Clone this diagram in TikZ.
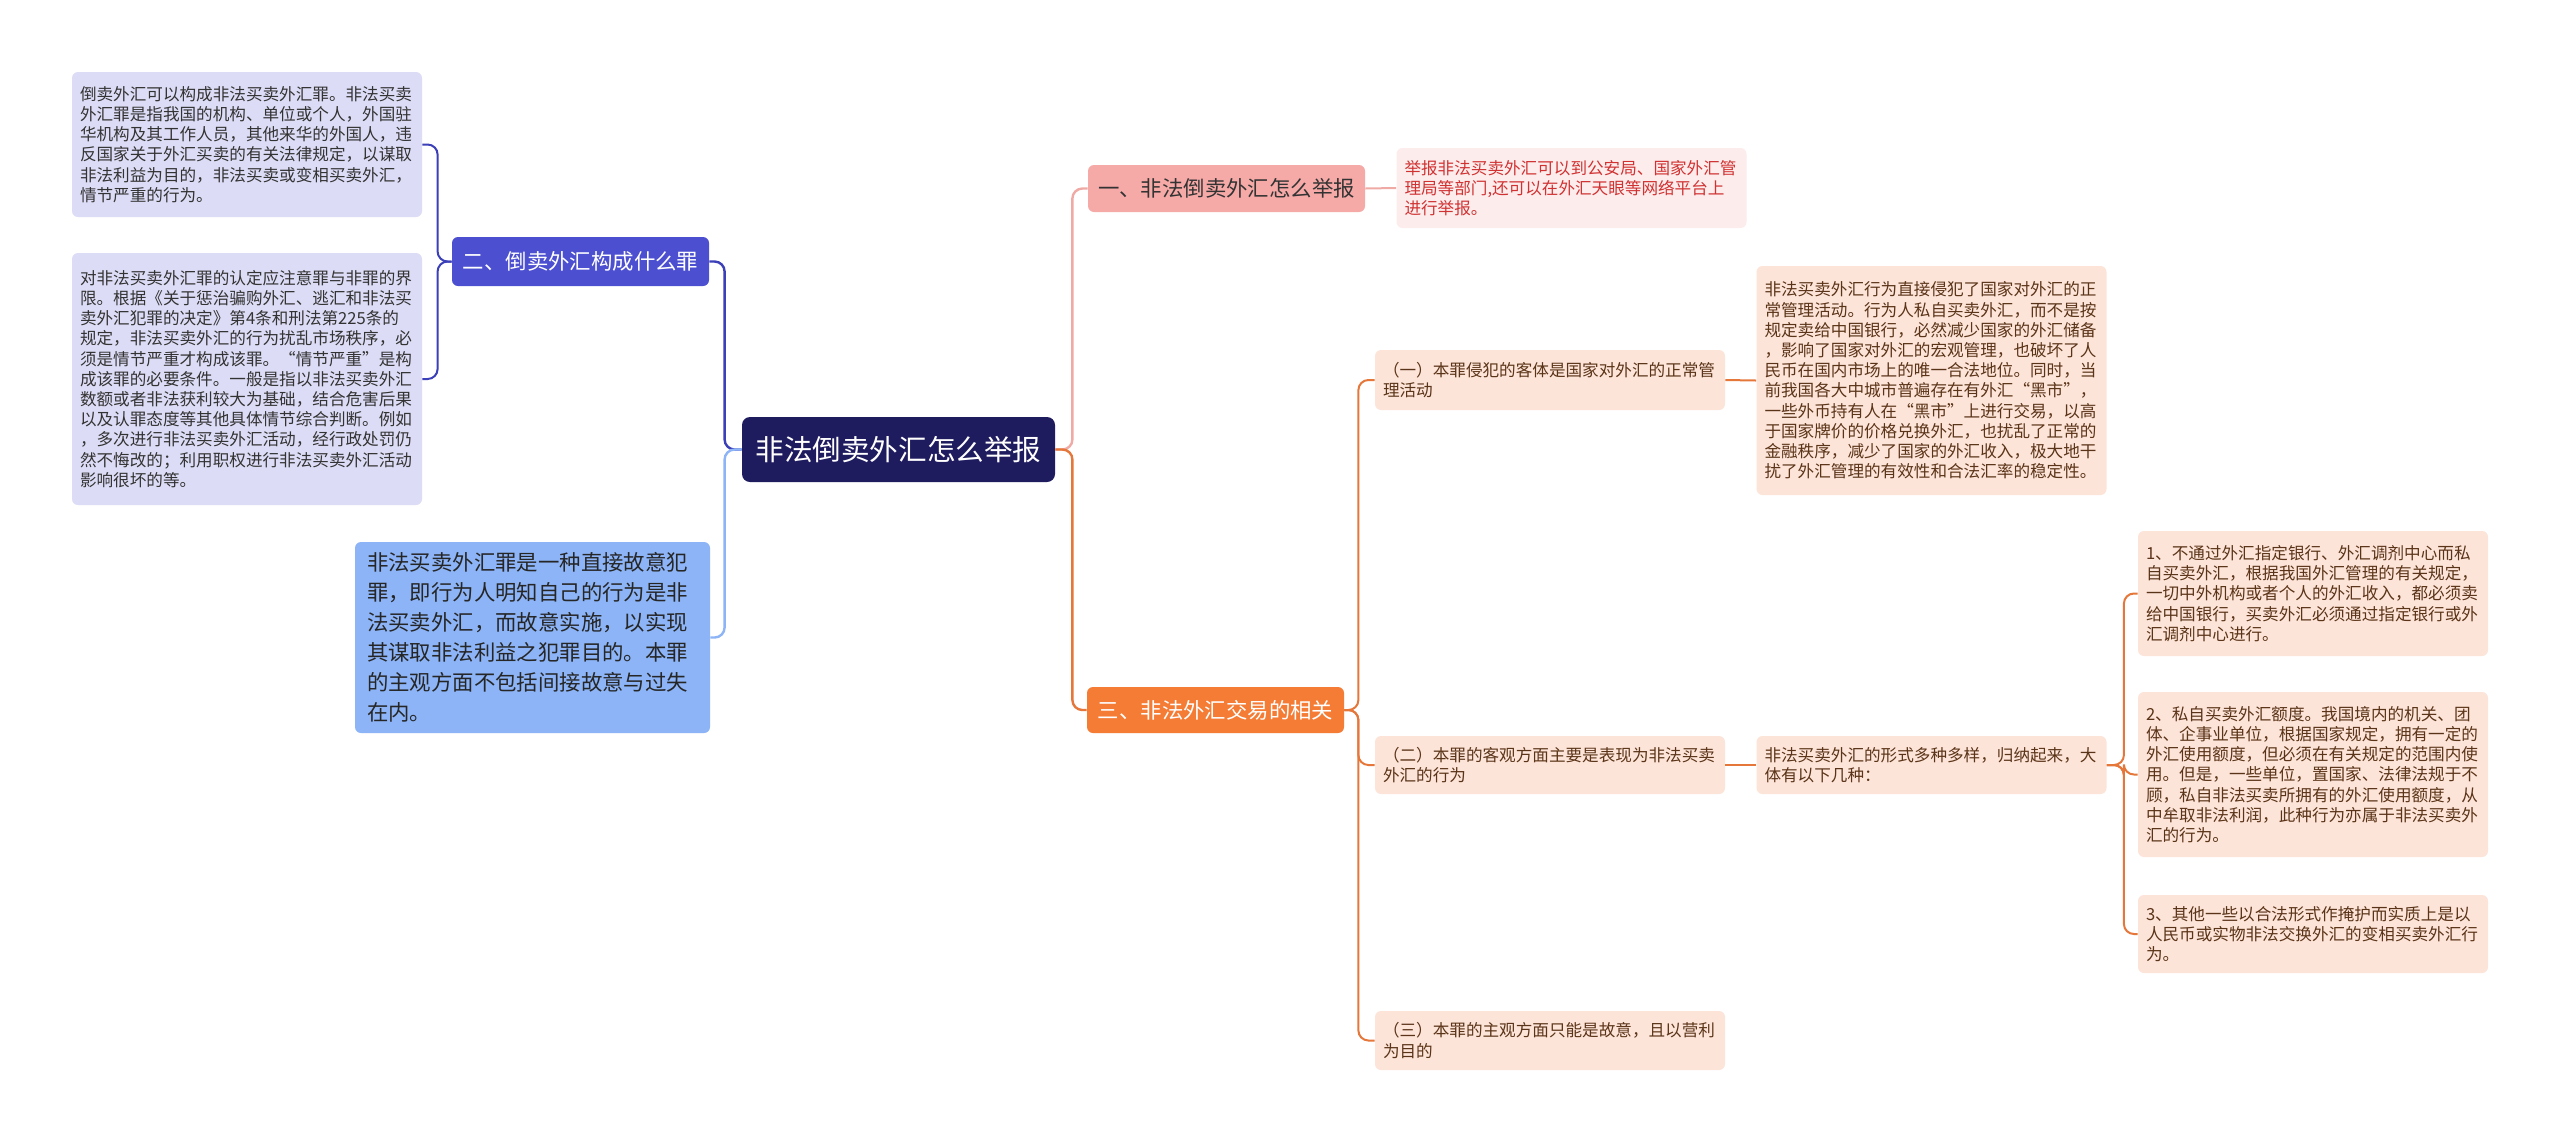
\documentclass[tikz,border=0pt]{standalone}
\usepackage{fontspec}
\setmainfont{Noto Sans CJK SC}
\definecolor{navy}{HTML}{1E1B5E}
\definecolor{indbox}{HTML}{4C50D0}
\definecolor{indline}{HTML}{3C40B8}
\definecolor{lav}{HTML}{DCDCF6}
\definecolor{ltblue}{HTML}{8CB4F6}
\definecolor{salmon}{HTML}{F6AAA8}
\definecolor{pinkfill}{HTML}{FDECEC}
\definecolor{redtext}{HTML}{D03232}
\definecolor{pinkline}{HTML}{F0AAA6}
\definecolor{orangebox}{HTML}{F47C35}
\definecolor{peach}{HTML}{FDE4D8}
\definecolor{browntext}{HTML}{5A3418}
\definecolor{orangeline}{HTML}{E5773A}
\definecolor{darktext}{HTML}{333333}
\begin{document}
\begin{tikzpicture}[x=0.5pt,y=-0.5pt,
  rootbox/.style={fill=navy,text=white,rounded corners=4pt,inner sep=0pt,
    font=\fontsize{14.3pt}{17pt}\selectfont},
  midbox/.style={rounded corners=3pt,inner sep=0pt,
    font=\fontsize{10.7pt}{13pt}\selectfont},
  leafbox/.style={rounded corners=3pt,inner xsep=4pt,inner ysep=2pt,
    text width=167pt,align=left,
    font=\fontsize{8.3pt}{10.1pt}\selectfont},
  mainline/.style={line width=1.2pt,rounded corners=5pt},
  subline/.style={line width=1pt,rounded corners=5pt}]
\useasboundingbox (0,0) rectangle (2560,1142);
\fill[white] (0,0) rectangle (2560,1142);

% root
\node[rootbox,minimum width=156.5pt,minimum height=32.5pt] (root) at (898.5,449.5) {非法倒卖外汇怎么举报};

% left side
\node[midbox,fill=indbox,text=white,minimum width=128.5pt,minimum height=24.5pt] (two) at (580.5,261.5) {二、倒卖外汇构成什么罪};
\node[leafbox,fill=lav,text=darktext,minimum height=72.5pt] (A) at (247,144.5) {倒卖外汇可以构成非法买卖外汇罪。非法买卖\\外汇罪是指我国的机构、单位或个人，外国驻\\华机构及其工作人员，其他来华的外国人，违\\反国家关于外汇买卖的有关法律规定，以谋取\\非法利益为目的，非法买卖或变相买卖外汇，\\情节严重的行为。};
\node[leafbox,fill=lav,text=darktext,minimum height=126pt] (B) at (247,379) {对非法买卖外汇罪的认定应注意罪与非罪的界\\限。根据《关于惩治骗购外汇、逃汇和非法买\\卖外汇犯罪的决定》第4条和刑法第225条的\\规定，非法买卖外汇的行为扰乱市场秩序，必\\须是情节严重才构成该罪。“情节严重”是构\\成该罪的必要条件。一般是指以非法买卖外汇\\数额或者非法获利较大为基础，结合危害后果\\以及认罪态度等其他具体情节综合判断。例如\\，多次进行非法买卖外汇活动，经行政处罚仍\\然不悔改的；利用职权进行非法买卖外汇活动\\影响很坏的等。};
\node[rounded corners=3pt,fill=ltblue,text=black!85,inner xsep=6pt,inner ysep=2pt,text width=165.5pt,align=left,minimum height=95.5pt,
  font=\fontsize{10.7pt}{15pt}\selectfont] (C) at (532.5,637.5) {非法买卖外汇罪是一种直接故意犯\\罪，即行为人明知自己的行为是非\\法买卖外汇，而故意实施，以实现\\其谋取非法利益之犯罪目的。本罪\\的主观方面不包括间接故意与过失\\在内。};

% right side
\node[midbox,fill=salmon,text=darktext,minimum width=138.5pt,minimum height=23.5pt] (one) at (1226.5,188.5) {一、非法倒卖外汇怎么举报};
\node[leafbox,fill=pinkfill,text=redtext,minimum height=40pt] (P) at (1571.5,188) {举报非法买卖外汇可以到公安局、国家外汇管\\理局等部门,还可以在外汇天眼等网络平台上\\进行举报。};

\node[midbox,fill=orangebox,text=white,minimum width=128.5pt,minimum height=23pt] (three) at (1215.5,710) {三、非法外汇交易的相关};

\node[leafbox,fill=peach,text=browntext,minimum height=30pt] (s1) at (1550,380) {（一）本罪侵犯的客体是国家对外汇的正常管\\理活动};
\node[leafbox,fill=peach,text=browntext,minimum height=114.5pt] (s1l) at (1931.5,380.5) {非法买卖外汇行为直接侵犯了国家对外汇的正\\常管理活动。行为人私自买卖外汇，而不是按\\规定卖给中国银行，必然减少国家的外汇储备\\，影响了国家对外汇的宏观管理，也破坏了人\\民币在国内市场上的唯一合法地位。同时，当\\前我国各大中城市普遍存在有外汇“黑市”，\\一些外币持有人在“黑市”上进行交易，以高\\于国家牌价的价格兑换外汇，也扰乱了正常的\\金融秩序，减少了国家的外汇收入，极大地干\\扰了外汇管理的有效性和合法汇率的稳定性。};

\node[leafbox,fill=peach,text=browntext,minimum height=29pt] (s2) at (1550,765) {（二）本罪的客观方面主要是表现为非法买卖\\外汇的行为};
\node[leafbox,fill=peach,text=browntext,minimum height=29pt] (s2l) at (1931.5,765) {非法买卖外汇的形式多种多样，归纳起来，大\\体有以下几种：};

\node[leafbox,fill=peach,text=browntext,minimum height=29.5pt] (s3) at (1550,1040.5) {（三）本罪的主观方面只能是故意，且以营利\\为目的};

\node[leafbox,fill=peach,text=browntext,minimum height=62.5pt] (c1) at (2313,593.5) {1、不通过外汇指定银行、外汇调剂中心而私\\自买卖外汇，根据我国外汇管理的有关规定，\\一切中外机构或者个人的外汇收入，都必须卖\\给中国银行，买卖外汇必须通过指定银行或外\\汇调剂中心进行。};
\node[leafbox,fill=peach,text=browntext,minimum height=82.5pt] (c2) at (2313,774.5) {2、私自买卖外汇额度。我国境内的机关、团\\体、企事业单位，根据国家规定，拥有一定的\\外汇使用额度，但必须在有关规定的范围内使\\用。但是，一些单位，置国家、法律法规于不\\顾，私自非法买卖所拥有的外汇使用额度，从\\中牟取非法利润，此种行为亦属于非法买卖外\\汇的行为。};
\node[leafbox,fill=peach,text=browntext,minimum height=39pt] (c3) at (2313,934) {3、其他一些以合法形式作掩护而实质上是以\\人民币或实物非法交换外汇的变相买卖外汇行\\为。};

% connectors left
\draw[mainline,indline] (root.west) -- ++(-17,0) |- (two.east);
\draw[mainline,ltblue] (root.west) -- ++(-17,0) |- (C.east);
\draw[subline,indline] (two.west) -- ++(-14,0) |- (A.east);
\draw[subline,indline] (two.west) -- ++(-14,0) |- (B.east);

% connectors right
\draw[mainline,pinkline] (root.east) -- ++(17,0) |- (one.west);
\draw[mainline,orangeline] (root.east) -- ++(17,0) |- (three.west);
\draw[subline,pinkline] (one.east) -- (P.west);
\draw[subline,orangeline] (three.east) -- ++(14,0) |- (s1.west);
\draw[subline,orangeline] (three.east) -- ++(14,0) |- (s2.west);
\draw[subline,orangeline] (three.east) -- ++(14,0) |- (s3.west);
\draw[subline,orangeline] (s1.east) -- (s1l.west);
\draw[subline,orangeline] (s2.east) -- (s2l.west);
\draw[subline,orangeline] (s2l.east) -- ++(17,0) |- (c1.west);
\draw[subline,orangeline] (s2l.east) -- ++(17,0) |- (c2.west);
\draw[subline,orangeline] (s2l.east) -- ++(17,0) |- (c3.west);
\end{tikzpicture}
\end{document}
